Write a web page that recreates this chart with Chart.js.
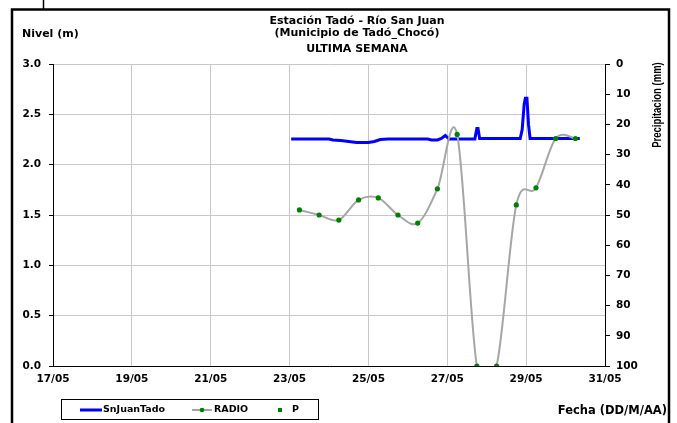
<!DOCTYPE html>
<html>
<head>
<meta charset="utf-8">
<script src="https://cdn.jsdelivr.net/npm/chart.js@4.4.1/dist/chart.umd.min.js"></script>
<style>
html,body{margin:0;padding:0;background:#fff;}
#c{display:block;}
</style>
</head>
<body>
<canvas id="c" width="677" height="423"></canvas>
<script>
// ---- data ----
const xTickDays = [17, 19, 21, 23, 25, 27, 29, 31];
const xTickLabels = ['17/05', '19/05', '21/05', '23/05', '25/05', '27/05', '29/05', '31/05'];
const titleLines = ['Estación Tadó - Río San Juan', '(Municipio de Tadó_Chocó)', 'ULTIMA SEMANA'];

// SnJuanTado level (m) — day of May (fractional) and value
const levelDays = [23.04, 23.5, 24.0, 24.1, 24.3, 24.5, 24.7, 25.0, 25.15, 25.3, 25.5, 26.0, 26.5, 26.6, 26.75, 26.85, 26.95, 27.0, 27.05, 27.5, 27.7, 27.72, 27.75, 27.78, 27.82, 28.5, 28.85, 28.9, 28.95, 28.98, 29.02, 29.06, 29.1, 29.5, 30.0, 30.36];
const levelValues = [2.255, 2.255, 2.255, 2.245, 2.24, 2.23, 2.22, 2.22, 2.23, 2.25, 2.255, 2.255, 2.255, 2.245, 2.245, 2.26, 2.29, 2.27, 2.255, 2.255, 2.255, 2.30, 2.36, 2.36, 2.26, 2.26, 2.26, 2.35, 2.60, 2.66, 2.66, 2.40, 2.26, 2.26, 2.26, 2.26];

// RADIO readings (m)
const radioDays = [23.25, 23.75, 24.25, 24.75, 25.25, 25.75, 26.25, 26.75, 27.25, 27.75, 28.25, 28.75, 29.25, 29.75, 30.25];
const radioValues = [1.55, 1.50, 1.45, 1.65, 1.67, 1.50, 1.42, 1.76, 2.30, 0.0, 0.0, 1.60, 1.77, 2.26, 2.26];

// P precipitation (mm) — no readings shown
const precipDays = [];
const precipValues = [];

const FONT = '"DejaVu Sans", Arial, sans-serif';
const FONT2 = '"Liberation Sans", Arial, sans-serif';

// Excel-like smoothing: uniform Catmull-Rom control points
const smoothing = {
  id: 'smoothing',
  beforeDatasetDraw(chart, args) {
    if (chart.data.datasets[args.index].label !== 'RADIO') return;
    const line = args.meta.dataset;
    line.updateControlPoints(chart.chartArea, 'x');
    const pts = line.points;
    for (let i = 0; i < pts.length; i++) {
      const p = pts[i];
      const prev = pts[i - 1] || p;
      const next = pts[i + 1] || p;
      const dx = (next.x - prev.x) / 6;
      const dy = (next.y - prev.y) / 6;
      p.cp1x = p.x - dx; p.cp1y = p.y - dy;
      p.cp2x = p.x + dx; p.cp2y = p.y + dy;
    }
    line._path = undefined;
  }
};

const decor = {
  id: 'decor',
  afterDraw(chart) {
    const ctx = chart.ctx;
    ctx.save();
    // outer frame
    ctx.strokeStyle = '#000';
    ctx.lineWidth = 2.5;
    ctx.strokeRect(12, 9.5, 657, 520);
    // little line above frame
    ctx.lineWidth = 1.5;
    ctx.beginPath(); ctx.moveTo(43.5, 0); ctx.lineTo(43.5, 9); ctx.stroke();

    ctx.fillStyle = '#000';
    ctx.font = 'bold 11px ' + FONT;
    ctx.textAlign = 'center';
    ctx.textBaseline = 'middle';
    ctx.fillText(titleLines[0], 357, 21);
    ctx.fillText(titleLines[1], 357, 33.5);
    ctx.fillText(titleLines[2], 357, 49);

    ctx.textAlign = 'left';
    ctx.fillText('Nivel (m)', 22, 34);

    ctx.textAlign = 'right';
    ctx.font = 'bold 11.5px ' + FONT;
    ctx.fillText('Fecha (DD/M/AA)', 667, 411);

    // rotated right axis title (glyphs widened like the stretched original)
    ctx.save();
    ctx.translate(658, 105);
    ctx.rotate(-Math.PI / 2);
    ctx.scale(1, 1.3);
    ctx.textAlign = 'center';
    ctx.font = 'bold 9.5px ' + FONT2;
    ctx.fillText('Precipitacion (mm)', 0, 0);
    ctx.restore();

    // legend box
    ctx.lineWidth = 1;
    ctx.strokeStyle = '#000';
    ctx.strokeRect(61.5, 399.5, 257, 20);
    ctx.font = 'bold 9.5px ' + FONT;
    ctx.textAlign = 'left';
    const ly = 410;
    // SnJuanTado
    ctx.strokeStyle = '#0000ff'; ctx.lineWidth = 3;
    ctx.beginPath(); ctx.moveTo(80, ly); ctx.lineTo(102, ly); ctx.stroke();
    ctx.fillText('SnJuanTado', 103, ly);
    // RADIO
    ctx.strokeStyle = '#a6a6a6'; ctx.lineWidth = 2;
    ctx.beginPath(); ctx.moveTo(192, ly); ctx.lineTo(212, ly); ctx.stroke();
    ctx.fillStyle = '#008000';
    ctx.beginPath(); ctx.arc(202, ly, 2.3, 0, Math.PI * 2); ctx.fill();
    ctx.fillStyle = '#000';
    ctx.fillText('RADIO', 214, ly);
    // P
    ctx.fillStyle = '#008000';
    ctx.fillRect(278, ly - 2, 4, 4);
    ctx.fillStyle = '#000';
    ctx.fillText('P', 292, ly);
    ctx.restore();
  }
};

const tickFont = { family: FONT, size: 10.5, weight: 'bold' };

new Chart(document.getElementById('c'), {
  type: 'line',
  data: {
    datasets: [
      {
        label: 'SnJuanTado',
        data: levelDays.map((d, i) => ({ x: d, y: levelValues[i] })),
        borderColor: '#0000ff', borderWidth: 3, pointRadius: 0, tension: 0,
        yAxisID: 'y', order: 2
      },
      {
        label: 'RADIO',
        data: radioDays.map((d, i) => ({ x: d, y: radioValues[i] })),
        borderColor: '#a6a6a6', borderWidth: 2, tension: 0.4,
        pointRadius: 2.6, pointBackgroundColor: '#008000', pointBorderColor: '#008000', pointBorderWidth: 0,
        yAxisID: 'y', order: 1
      },
      {
        label: 'P',
        data: precipDays.map((d, i) => ({ x: d, y: precipValues[i] })),
        showLine: false, pointStyle: 'rect', pointRadius: 2,
        pointBackgroundColor: '#008000', pointBorderColor: '#008000',
        yAxisID: 'y1', order: 0
      }
    ]
  },
  options: {
    responsive: false,
    animation: false,
    layout: { padding: { top: 64, left: 0, right: 0, bottom: 0 } },
    plugins: { legend: { display: false }, tooltip: { enabled: false }, title: { display: false } },
    scales: {
      x: {
        type: 'linear', min: 17, max: 31,
        afterBuildTicks(s) { s.ticks = xTickDays.map(v => ({ value: v })); },
        ticks: {
          callback: (v) => { const i = xTickDays.indexOf(v); return i >= 0 ? xTickLabels[i] : ''; },
          font: tickFont, color: '#000', maxRotation: 0, padding: 7, autoSkip: false
        },
        grid: { color: '#c8c8c8', lineWidth: 1, drawTicks: false },
        border: { color: '#000', width: 1 },
        afterFit(s) { s.height = 423 - 366; }
      },
      y: {
        position: 'left', min: 0, max: 3,
        ticks: {
          stepSize: 0.5, callback: v => v.toFixed(1),
          font: tickFont, color: '#000', padding: 8
        },
        grid: { color: '#c8c8c8', lineWidth: 1, tickColor: '#000', tickLength: 4 },
        border: { color: '#000', width: 1 },
        afterFit(s) { s.width = 53; }
      },
      y1: {
        position: 'right', min: 0, max: 100, reverse: true,
        ticks: {
          stepSize: 10,
          font: tickFont, color: '#000', padding: 6
        },
        grid: { drawOnChartArea: false, tickColor: '#000', tickLength: 5 },
        border: { color: '#000', width: 1 },
        afterFit(s) { s.width = 677 - 605; }
      }
    }
  },
  plugins: [smoothing, decor]
});
</script>
</body>
</html>
